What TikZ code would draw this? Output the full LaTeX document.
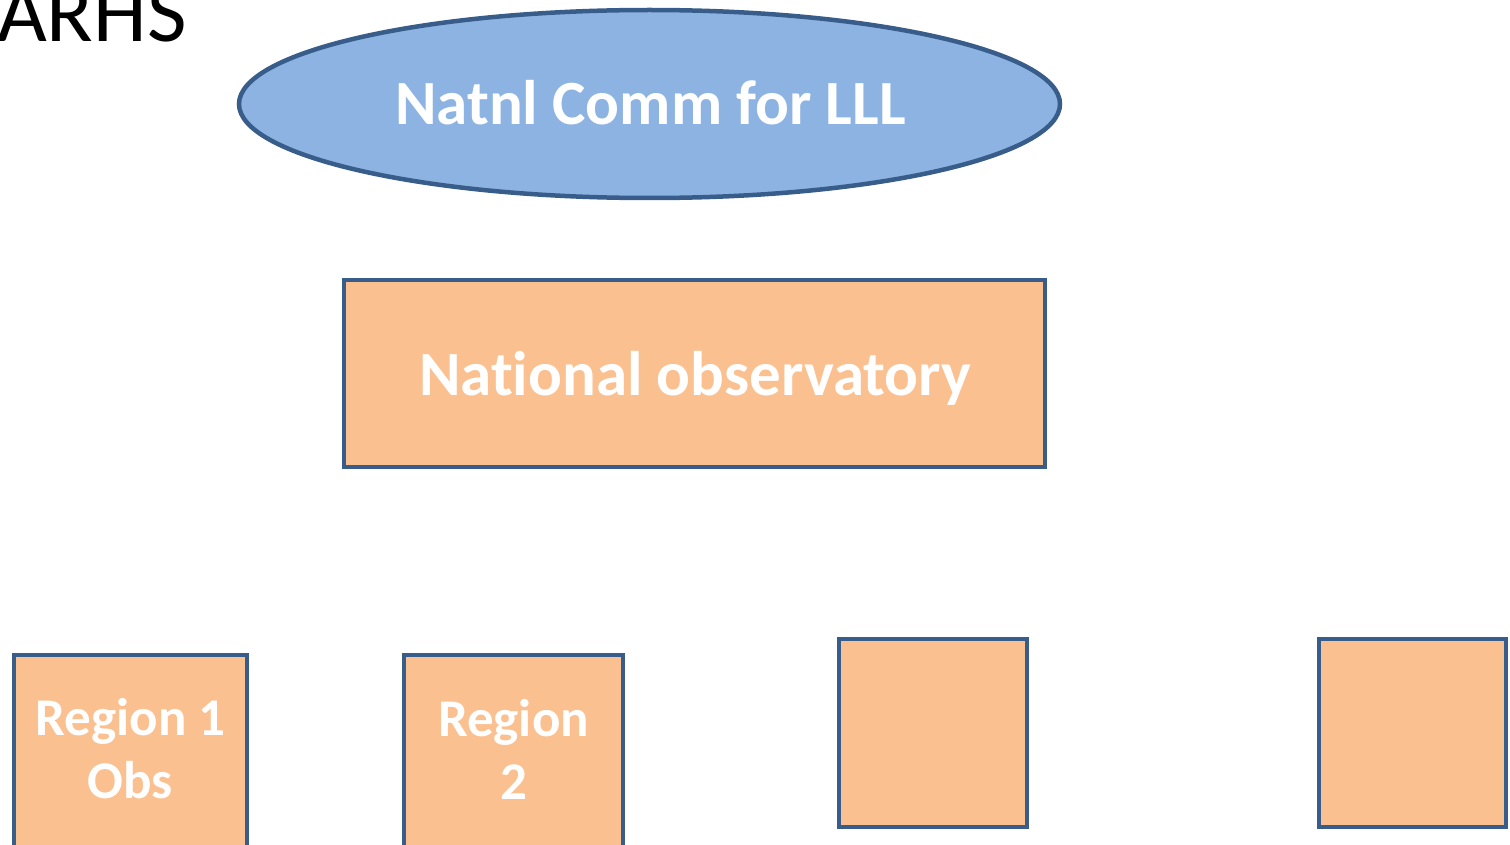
\documentclass[tikz,border=0pt]{standalone}
\usepackage{fontspec}
\setmainfont{Carlito}[Ligatures=NoCommon]
\usetikzlibrary{shapes.geometric}
\definecolor{edgeblue}{HTML}{385D8A}
\definecolor{commblue}{HTML}{8DB3E2}
\definecolor{obsorange}{HTML}{FAC090}
\tikzset{
  obsbox/.style={draw=edgeblue, line width=4.5, fill=obsorange, inner sep=0},
  commoval/.style={ellipse, draw=edgeblue, line width=4.5, fill=commblue, inner sep=0},
  boxtext/.style={anchor=base, inner sep=0, text=white, font=\fontsize{63}{70}\selectfont\bfseries},
  regtext/.style={inner sep=0, text=white, align=center, font=\fontsize{53}{63}\selectfont\bfseries}
}

\begin{document}
\begin{tikzpicture}[x=1pt, y=-1pt]
      \useasboundingbox (0,0) rectangle (1510,845);
      \node[anchor=base west, inner sep=0] (title) at (-3,42) {\fontsize{86}{94}\selectfont ARHS};
      \node[commoval, minimum width=821, minimum height=188] (comm) at (649.5,104) {};
      \node[boxtext] (commtext) at (650.5,125) {Natnl Comm for LLL};
      \node[obsbox, minimum width=701, minimum height=187] (natobs) at (694.5,373.5) {};
      \node[boxtext] (natobstext) at (695,395) {National observatory};
      \node[obsbox, minimum width=233, minimum height=196] (reg1) at (130.5,753) {};
      \node[regtext] (reg1text) at (130.5,749) {Region 1\\Obs};
      \node[obsbox, minimum width=219, minimum height=196] (reg2) at (513.5,753) {};
      \node[regtext] (reg2text) at (513.5,749) {Region\\2};
      \node[obsbox, minimum width=188, minimum height=188] (reg3) at (933,733) {};
      \node[obsbox, minimum width=187, minimum height=188] (reg4) at (1412.5,733) {};
\end{tikzpicture}
\end{document}
